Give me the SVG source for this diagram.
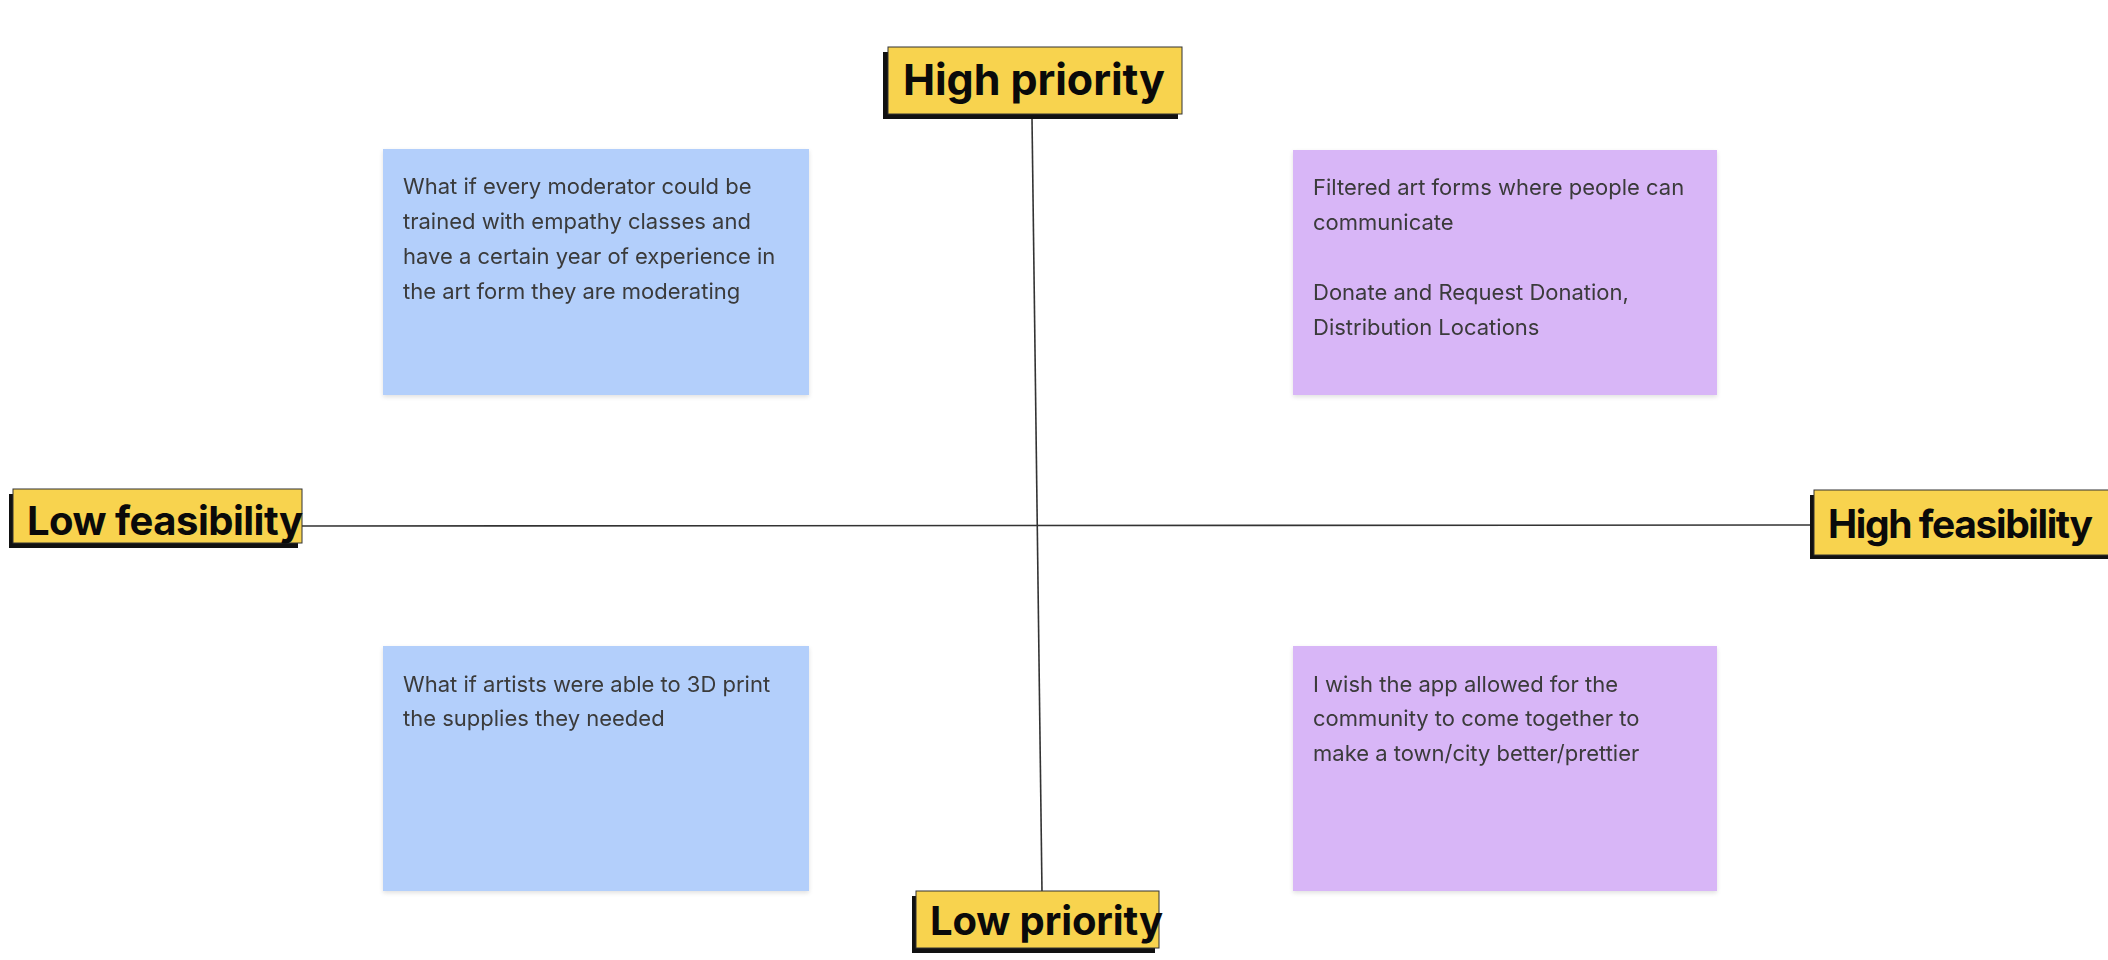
<svg xmlns="http://www.w3.org/2000/svg" width="2108" height="960" viewBox="0 0 2108 960">
  <defs>
    <filter id="sh" x="-5%" y="-5%" width="110%" height="115%">
      <feDropShadow dx="0" dy="2" stdDeviation="2" flood-color="#000" flood-opacity="0.12"/>
    </filter>
  </defs>
  <style>
    .sticky-text { font-family: Inter, "Liberation Sans", sans-serif; font-size: 22px; fill: #3a3a3a; }
    .blue { fill: #B3CFFB; }
    .purple { fill: #D8B6F7; }
    .lbl-shadow { fill: #111; }
    .lbl-box { fill: #F8D34E; stroke: #333; stroke-width: 1; }
    .lbl-text { font-family: Inter, "Liberation Sans", sans-serif; font-weight: 700; fill: #0a0a0a; }
    .axis { stroke: #333; stroke-width: 1.6; fill: none; }
  </style>
  <rect width="2108" height="960" fill="#fff"/>

  <g id="connectors">
    <line class="axis" x1="1032" y1="118" x2="1042" y2="892"/>
    <line class="axis" x1="300" y1="526" x2="1812" y2="525"/>
  </g>

  <g id="sticky-top-left" filter="url(#sh)">
    <rect class="blue" x="383" y="149" width="426" height="246"/>
    <text class="sticky-text" x="403" y="194">What if every moderator could be</text>
    <text class="sticky-text" x="403" y="229">trained with empathy classes and</text>
    <text class="sticky-text" x="403" y="264">have a certain year of experience in</text>
    <text class="sticky-text" x="403" y="299">the art form they are moderating</text>
  </g>

  <g id="sticky-top-right" filter="url(#sh)">
    <rect class="purple" x="1293" y="150" width="424" height="245"/>
    <text class="sticky-text" x="1313" y="195">Filtered art forms where people can</text>
    <text class="sticky-text" x="1313" y="230">communicate</text>
    <text class="sticky-text" x="1313" y="300">Donate and Request Donation,</text>
    <text class="sticky-text" x="1313" y="335">Distribution Locations</text>
  </g>

  <g id="sticky-bottom-left" filter="url(#sh)">
    <rect class="blue" x="383" y="646" width="426" height="245"/>
    <text class="sticky-text" x="403" y="692">What if artists were able to 3D print</text>
    <text class="sticky-text" x="403" y="726">the supplies they needed</text>
  </g>

  <g id="sticky-bottom-right" filter="url(#sh)">
    <rect class="purple" x="1293" y="646" width="424" height="245"/>
    <text class="sticky-text" x="1313" y="692">I wish the app allowed for the</text>
    <text class="sticky-text" x="1313" y="726">community to come together to</text>
    <text class="sticky-text" x="1313" y="761">make a town/city better/prettier</text>
  </g>

  <g id="label-high-priority">
    <rect class="lbl-shadow" x="883" y="52" width="295" height="67"/>
    <rect class="lbl-box" x="888" y="47" width="294" height="67"/>
    <text class="lbl-text" x="903" y="95" font-size="43" textLength="262">High priority</text>
  </g>

  <g id="label-low-feasibility">
    <rect class="lbl-shadow" x="9" y="494" width="289" height="54"/>
    <rect class="lbl-box" x="13" y="489" width="289" height="54"/>
    <text class="lbl-text" x="27" y="535" font-size="40" textLength="276">Low feasibility</text>
  </g>

  <g id="label-high-feasibility">
    <rect class="lbl-shadow" x="1810" y="495" width="310" height="64"/>
    <rect class="lbl-box" x="1814" y="490" width="310" height="65"/>
    <text class="lbl-text" x="1828" y="538" font-size="39" textLength="265">High feasibility</text>
  </g>

  <g id="label-low-priority">
    <rect class="lbl-shadow" x="912" y="896" width="243" height="57"/>
    <rect class="lbl-box" x="916" y="891" width="243" height="57"/>
    <text class="lbl-text" x="930" y="935" font-size="40" textLength="233">Low priority</text>
  </g>
</svg>
